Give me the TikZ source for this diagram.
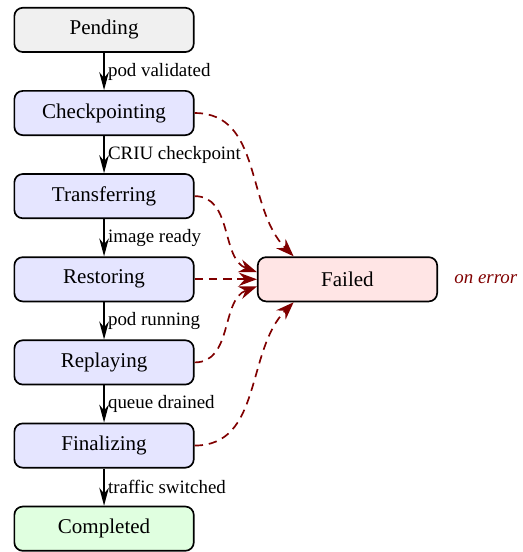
\documentclass[tikz,border=0pt]{standalone}
\usepackage{fontspec}
\setmainfont{Liberation Serif}
\usetikzlibrary{positioning,arrows.meta}

\begin{document}
\begin{tikzpicture}[node distance=1.39cm, on grid,
    phase/.style={draw, thick, rounded corners=4pt, minimum width=3cm, minimum height=0.74cm, fill=blue!10},
    trans/.style={thick, -{Stealth[length=3mm,width=1.6mm]}},
    fail/.style={thick, dash pattern=on 4pt off 2.8pt, red!50!black, -{Stealth[length=3mm,width=2.2mm]}},
    translabel/.style={right, inner sep=1.5pt, font=\small}]

    \useasboundingbox (-1.74,-8.73) rectangle (6.99,0.50);

    % main chain
    \node[phase, fill=black!6] (pending) at (0,0) {Pending};
    \node[phase] (checkpointing) [below=of pending] {Checkpointing};
    \node[phase] (transferring) [below=of checkpointing] {Transferring};
    \node[phase] (restoring) [below=of transferring] {Restoring};
    \node[phase] (replaying) [below=of restoring] {Replaying};
    \node[phase] (finalizing) [below=of replaying] {Finalizing};
    \node[phase, fill=green!12] (completed) [below=of finalizing] {Completed};

    % error state
    \node[phase, fill=red!10] (failed) [right=4.07cm of restoring] {Failed};
    \node[anchor=west, font=\small\itshape, text=red!50!black] (errnote) at ([xshift=1.5mm]failed.east) {on error};

    \path[trans]
        (pending) edge node[translabel] {pod validated} (checkpointing)
        (checkpointing) edge node[translabel] {CRIU checkpoint} (transferring)
        (transferring) edge node[translabel] {image ready} (restoring)
        (restoring) edge node[translabel] {pod running} (replaying)
        (replaying) edge node[translabel] {queue drained} (finalizing)
        (finalizing) edge node[translabel] {traffic switched} (completed);

    \path[fail]
        (checkpointing.east) edge[out=0, in=135] ([xshift=-0.9cm]failed.north)
        (transferring.east) edge[out=0, in=160] ([yshift=1.2mm]failed.west)
        (restoring.east) edge (failed.west)
        (replaying.east) edge[out=0, in=200] ([yshift=-1.2mm]failed.west)
        (finalizing.east) edge[out=0, in=225] ([xshift=-0.9cm]failed.south);

\end{tikzpicture}
\end{document}
